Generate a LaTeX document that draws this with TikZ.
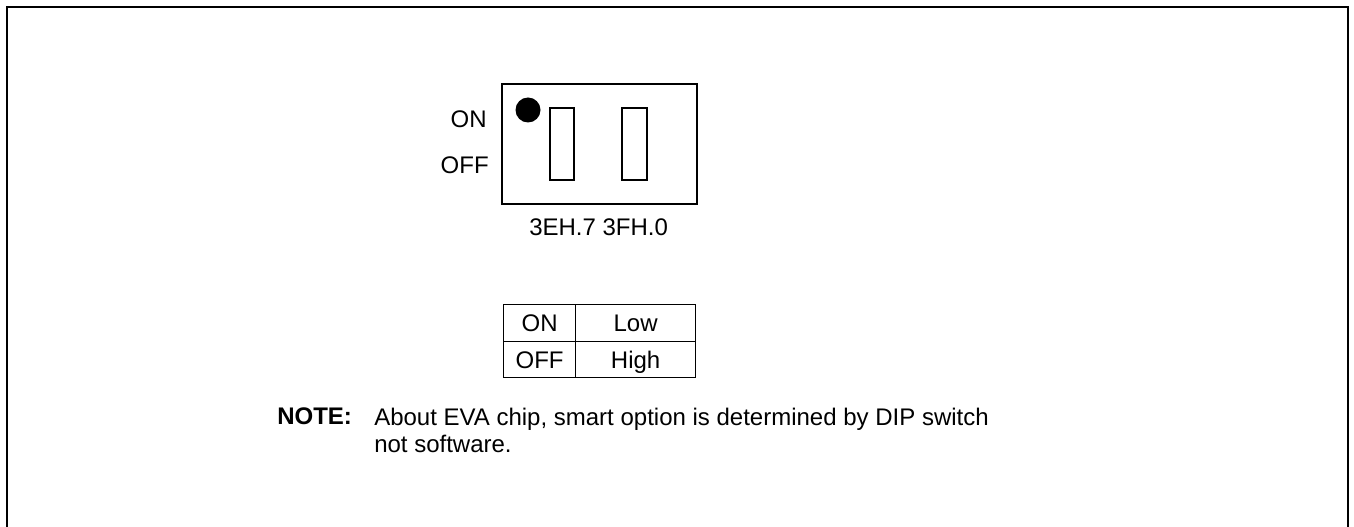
\documentclass[tikz,border=0pt]{standalone}
\usepackage{fontspec}
\setmainfont{Liberation Sans}
\usetikzlibrary{positioning,calc}
\tikzset{
  txt/.style={inner sep=0pt, font=\fontsize{18}{20.25}\selectfont},
  thin/.style={draw=black, line width=0.9pt},
  frame/.style={draw=black, line width=1.8pt},
  cell/.style={thin, inner sep=0pt, text height=12.9pt, text depth=0pt,
               font=\fontsize{18}{20.25}\selectfont},
}
\begin{document}
\begin{tikzpicture}[x=0.75pt,y=-0.75pt]
  \useasboundingbox (0,0) rectangle (1354,527);
  % outer frame, open at the bottom
  \draw[frame] (7,560) -- (7,7) -- (1348,7) -- (1348,560);
  % dip switch
  \draw[thin] (502,84) rectangle (697,204);
  \fill (528,110) circle (12.5);
  \draw[thin] (550,108) rectangle (574,180);
  \draw[thin] (622,108) rectangle (647,180);
  \node[txt, anchor=base east] (on) at (487,128) {ON};
  \node[txt, anchor=base east] (off) at (489,174) {OFF};
  \node[txt, anchor=base west] (bits) at (529,236) {3EH.7 3FH.0};
  % level table
  \node[cell, minimum width=54pt, minimum height=27.75pt, anchor=north west] (c11) at (503,304) {ON};
  \node[cell, minimum width=90pt, minimum height=27.75pt, anchor=north west] (c12) at (575,304) {Low};
  \node[cell, minimum width=54pt, minimum height=27pt, anchor=north west] (c21) at (503,341) {OFF};
  \node[cell, minimum width=90pt, minimum height=27pt, anchor=north west] (c22) at (575,341) {High};
  % note
  \node[txt, anchor=base west] (note) at (277,425) {\textbf{NOTE:}};
  \node[txt, anchor=base west, align=left] (notetext) at (374,452)
    {About EVA chip, smart option is determined by DIP switch\\not software.};
\end{tikzpicture}
\end{document}
